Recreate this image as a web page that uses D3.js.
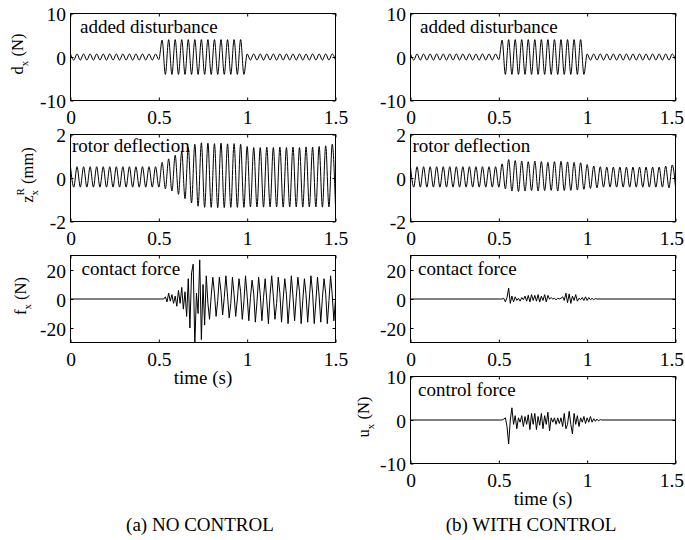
<!DOCTYPE html>
<html><head><meta charset="utf-8">
<script src="https://cdn.jsdelivr.net/npm/d3@7"></script>
<style>
body{margin:0;background:#fff}
svg text{font-family:"Liberation Serif","Times New Roman",Tinos,serif !important;fill:#000}
</style>
</head><body>
<svg id="chart" width="685" height="540"></svg>
<script>
// ---------------- data ----------------
const timeDomain = [0, 1.5];
const timeTicks = [0, 0.5, 1, 1.5];
const timeTickLabels = ["0", "0.5", "1", "1.5"];
const dxTicks = [-10, 0, 10];
const zxTicks = [-2, 0, 2];
const fxTicks = [-20, 0, 20];
const uxTicks = [-10, 0, 10];

// peak/trough values, sampled every half period (t = i * extremaStep)
const extremaStep = 1 / 54;
const disturbance = [
  0.7,-0.7,0.7,-0.7,0.7,-0.7,0.7,-0.7,0.7,-0.7,0.7,-0.7,0.7,-0.7,
  0.7,-0.7,0.7,-0.7,0.7,-0.7,0.7,-0.7,0.7,-0.7,0.7,-0.7,0.7,-0.6,
  3.9,-4,4,-4,4,-4,4,-4,4,-4,4,-4,4,-4,4,-4,4,-4,4,-4,4,-4,4,-4,4,-4,
  0.7,-0.7,0.7,-0.7,0.7,-0.7,0.7,-0.7,0.7,-0.7,0.7,-0.7,0.7,-0.7,
  0.7,-0.7,0.7,-0.7,0.7,-0.7,0.7,-0.7,0.7,-0.7,0.7,-0.7,0.7,-0.7
];
const rotorNoControl = [
  0.52,-0.42,0.52,-0.42,0.52,-0.42,0.52,-0.42,0.52,-0.42,0.52,-0.42,0.52,-0.42,
  0.52,-0.42,0.52,-0.42,0.52,-0.42,0.52,-0.42,0.52,-0.42,0.52,-0.42,0.52,-0.42,
  0.72,-0.5,0.88,-0.6,1.05,-0.75,1.22,-0.95,1.4,-1.15,1.55,-1.3,1.62,-1.35,
  1.6,-1.35,1.58,-1.36,1.6,-1.36,1.57,-1.35,1.58,-1.35,1.55,-1.35,
  1.45,-1.33,1.4,-1.33,1.4,-1.34,1.42,-1.33,1.4,-1.33,1.42,-1.34,1.4,-1.33,
  1.42,-1.33,1.4,-1.34,1.43,-1.33,1.42,-1.33,1.45,-1.34,1.48,-1.33,1.55,-1.3
];
const rotorWithControl = [
  0.52,-0.42,0.52,-0.42,0.52,-0.42,0.52,-0.42,0.52,-0.42,0.52,-0.42,0.52,-0.42,
  0.52,-0.42,0.52,-0.42,0.52,-0.42,0.52,-0.42,0.52,-0.42,0.52,-0.42,0.52,-0.42,
  0.65,-0.5,0.85,-0.6,0.8,-0.62,0.78,-0.6,0.75,-0.58,0.78,-0.6,0.76,-0.58,
  0.72,-0.57,0.75,-0.6,0.77,-0.58,0.74,-0.57,0.72,-0.55,0.7,-0.52,
  0.62,-0.48,0.55,-0.45,0.52,-0.42,0.5,-0.42,0.5,-0.42,0.5,-0.42,0.5,-0.42,
  0.5,-0.42,0.5,-0.42,0.5,-0.42,0.5,-0.42,0.5,-0.42,0.55,-0.45,0.6,-0.4
];

// force signals, sampled every quarter period from forceStart
const forceStart = 0.5;
const forceStep = 1 / 108;
const contactNoControl = [
  0,0,0,0,
  1.5,-2,4,-1.5,3,-3,2,-5,6,-3,8,-7,5,
  -12,14,-20,18,24,-32,4,-10,27,-28,10,-18,
  16,-3,-14,2,15,4,-12,-1,15,5,-11,1,16,2,-13,-3,15,3,-12,0,
  14,5,-14,-2,16,2,-15,1,13,4,-16,-2,15,3,-15,1,14,-1,-17,3,
  16,2,-14,-3,15,4,-16,0,14,3,-17,-2,16,2,-15,1,15,5,-17,-1,
  14,3,-16,0,16,4,-17,-2,15,2,-16,1,14,4,-17,-1,16,3,-15,0
];
const contactWithControl = [
  0,0,0,0.5,-2,1,7.5,-3,2,-2,1.5,-1,0.5,-1.5,1,-0.5,2,-1.5,2.5,-2,
  3,-1,2.5,-1.5,3,-2,2,-1,3,-2,2.5,0,1,0,0.5,-0.5,0.5,0,0.5,1.5,
  -1,4,-2.5,3.5,-3,2,-1,3,-1.5,0.5,-0.5,1,-1,1.5,-1,1,-0.5,0.5,-0.5,0.3,0
];
const controlForce = [
  0,0,0,0.2,0.5,-1.5,-5.5,0,2.8,-1,1,-2,0.5,-0.5,1,-1.5,0.8,-1,1.2,-2.2,
  1.5,-1,1.5,-2.2,0.8,-1.2,1.5,-2,1,-1,1.8,-2.5,0.5,-0.5,0.5,-1,0.5,-0.8,0.5,-1.5,
  1.5,-2,-1,2,-1,-3.2,1.5,-1,1,-1.5,0.5,-0.5,0.8,-0.8,0.5,-0.5,0.8,-0.5,0.3,-0.3,
  0.2,-0.2,0.1,0
];

const captions = ["(a) NO CONTROL", "(b) WITH CONTROL"];
const timeLabel = "time (s)";

// ---------------- layout ----------------
const FONT = '"Liberation Serif","Times New Roman",Tinos,serif';
const svg = d3.select("#chart");
svg.append("rect").attr("width", 685).attr("height", 540).attr("fill", "#fff");
const panelW = 265, panelH = 87;
const colX = [70.5, 410.5];
const rowY = [13.5, 134.5, 255.5, 376.5];

const FS_TICK = 19.5, FS_TEXT = 19, FS_YL = 16.5, FS_SMALL = 11;

const panels = [
  {col:0,row:0,domain:[-10,10],ticks:dxTicks,title:"added disturbance",tdx:9.5,tdy:19.5,
   s:{start:0,step:extremaStep,values:disturbance,smooth:true},
   yl:{main:"d",sub:"x",rest:" (N)",dx:-47.5}},
  {col:0,row:1,domain:[-2,2],ticks:zxTicks,title:"rotor deflection",tdx:1.5,tdy:17.5,
   s:{start:0,step:extremaStep,values:rotorNoControl,smooth:true},
   yl:{main:"z",sup:"R",sub:"x",rest:" (mm)",dx:-38}},
  {col:0,row:2,domain:[-30,30],ticks:fxTicks,title:"contact force",tdx:11,tdy:19,
   s:{start:forceStart,step:forceStep,values:contactNoControl,smooth:false},
   yl:{main:"f",sub:"x",rest:" (N)",dx:-45}, xlabel:true},
  {col:1,row:0,domain:[-10,10],ticks:dxTicks,title:"added disturbance",tdx:9.5,tdy:19.5,
   s:{start:0,step:extremaStep,values:disturbance,smooth:true}},
  {col:1,row:1,domain:[-2,2],ticks:zxTicks,title:"rotor deflection",tdx:2,tdy:17.5,
   s:{start:0,step:extremaStep,values:rotorWithControl,smooth:true}},
  {col:1,row:2,domain:[-30,30],ticks:fxTicks,title:"contact force",tdx:7.5,tdy:19.5,
   s:{start:forceStart,step:forceStep,values:contactWithControl,smooth:false}},
  {col:1,row:3,domain:[-10,10],ticks:uxTicks,title:"control force",tdx:7.5,tdy:19.5,
   s:{start:forceStart,step:forceStep,values:controlForce,smooth:false},
   yl:{main:"u",sub:"x",rest:" (N)",dx:-42}, xlabel:true}
];

function seriesPoints(s) {
  const p = s.values.map((v, i) => ({t: s.start + i * s.step, v}));
  if (p[0].t > timeDomain[0] + 1e-9) p.unshift({t: timeDomain[0], v: s.values[0]});
  if (p[p.length - 1].t < timeDomain[1] - 1e-9) p.push({t: timeDomain[1], v: s.values[s.values.length - 1]});
  return p;
}

panels.forEach((P, k) => {
  const x0 = colX[P.col], y0 = rowY[P.row];
  const x = d3.scaleLinear().domain(timeDomain).range([x0, x0 + panelW]);
  const y = d3.scaleLinear().domain(P.domain).range([y0 + panelH, y0]);
  const g = svg.append("g");

  const clipId = "clip" + k;
  g.append("clipPath").attr("id", clipId).append("rect")
    .attr("x", x0).attr("y", y0).attr("width", panelW).attr("height", panelH);

  const line = d3.line().x(d => x(d.t)).y(d => y(d.v))
    .curve(P.s.smooth ? d3.curveMonotoneX : d3.curveLinear);
  g.append("path").datum(seriesPoints(P.s))
    .attr("clip-path", `url(#${clipId})`)
    .attr("d", line).attr("fill", "none").attr("stroke", "#000")
    .attr("stroke-width", 1).attr("stroke-linejoin", "round");

  // axes (inward ticks)
  const ax = (gen) => gen.tickSizeOuter(0);
  const bottom = g.append("g").attr("transform", `translate(0,${y0 + panelH})`)
    .call(ax(d3.axisBottom(x).tickValues(timeTicks).tickFormat((d, i) => timeTickLabels[i])
      .tickSizeInner(-3).tickPadding(9.5)));
  const top = g.append("g").attr("transform", `translate(0,${y0})`)
    .call(ax(d3.axisTop(x).tickValues(timeTicks).tickFormat("").tickSizeInner(-3)));
  const left = g.append("g").attr("transform", `translate(${x0},0)`)
    .call(ax(d3.axisLeft(y).tickValues(P.ticks).tickFormat(d => String(d))
      .tickSizeInner(-3).tickPadding(4.5)));
  const right = g.append("g").attr("transform", `translate(${x0 + panelW},0)`)
    .call(ax(d3.axisRight(y).tickValues(P.ticks).tickFormat("").tickSizeInner(-3)));
  [bottom, top, left, right].forEach(a => {
    a.select(".domain").remove();
    a.attr("font-size", FS_TICK).attr("font-family", FONT);
    a.selectAll("text").style("font-family", FONT);
    a.selectAll("line").attr("stroke", "#000");
  });
  left.selectAll("text").attr("dy", "0.36em");
  // keep the last tick label inside the picture
  bottom.selectAll("text").each(function() {
    const bb = this.getBBox();
    const tr = this.parentNode.getAttribute("transform");
    const tx = +tr.match(/translate\(([-\d.]+)/)[1];
    const rightEdge = tx + bb.x + bb.width;
    if (rightEdge > 684) d3.select(this).attr("x", 684 - rightEdge);
  });

  // box
  g.append("rect").attr("x", x0).attr("y", y0).attr("width", panelW).attr("height", panelH)
    .attr("fill", "none").attr("stroke", "#000").attr("stroke-width", 1);

  // in-panel title
  g.append("text").attr("x", x0 + P.tdx).attr("y", y0 + P.tdy)
    .attr("font-size", FS_TEXT).style("font-family", FONT).text(P.title);

  // x label
  if (P.xlabel) {
    g.append("text").attr("x", x0 + panelW / 2).attr("y", y0 + panelH + 41)
      .attr("text-anchor", "middle").attr("font-size", FS_TEXT).style("font-family", FONT).text(timeLabel);
  }

  // y label with sub/superscript
  if (P.yl) {
    const L = P.yl;
    const outer = g.append("g")
      .attr("transform", `translate(${x0 + L.dx},${y0 + panelH / 2 - 3}) rotate(-90)`);
    const inner = outer.append("g");
    const tMain = inner.append("text").attr("x", 0).attr("y", 0).attr("font-size", FS_YL)
      .style("font-family", FONT).text(L.main);
    const wMain = tMain.node().getComputedTextLength();
    let wScript = 0;
    if (L.sup) {
      const ts = inner.append("text").attr("x", wMain).attr("y", -8.5).attr("font-size", FS_SMALL)
        .style("font-family", FONT).text(L.sup);
      wScript = Math.max(wScript, ts.node().getComputedTextLength());
    }
    if (L.sub) {
      const tb = inner.append("text").attr("x", wMain).attr("y", 5).attr("font-size", FS_SMALL)
        .style("font-family", FONT).text(L.sub);
      wScript = Math.max(wScript, tb.node().getComputedTextLength());
    }
    const tRest = inner.append("text").attr("x", wMain + wScript).attr("y", 0)
      .attr("font-size", FS_YL).style("font-family", FONT).style("white-space", "pre").text(L.rest);
    const total = wMain + wScript + tRest.node().getComputedTextLength();
    inner.attr("transform", `translate(${-total / 2},0)`);
  }
});

// captions
const captionX = [200, 531];
captions.forEach((c, i) => {
  svg.append("text").attr("x", captionX[i]).attr("y", 531)
    .attr("text-anchor", "middle").attr("font-size", FS_TEXT).style("font-family", FONT).text(c);
});
</script>
</body></html>
